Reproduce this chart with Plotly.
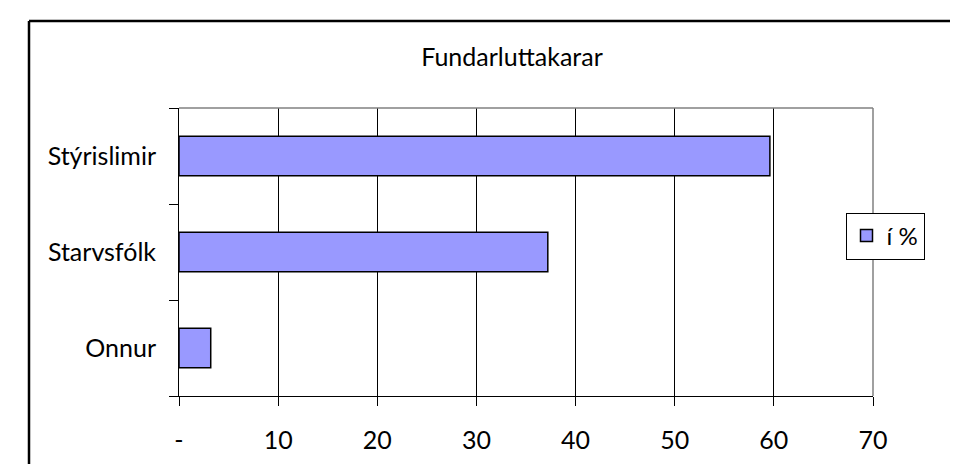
import plotly.graph_objects as go

# data
categories = ["Stýrislimir", "Starvsfólk", "Onnur"]
values = [59.6, 37.2, 3.2]
series_name = "í %"
x_ticks = [0, 10, 20, 30, 40, 50, 60, 70]
x_ticktext = ["-" if v == 0 else str(v) for v in x_ticks]

W, H = 958, 464
L, R, T, B = 171, 93, 100, 76
FONT = "Lato"
FS = 25


def px2paper(px, py):
    # pixel position -> paper coordinates of the plot area
    return (px - L) / (W - L - R), (H - B - py) / (H - T - B)


fig = go.Figure()

fig.add_trace(go.Bar(
    y=categories,
    x=values,
    orientation="h",
    name=series_name,
    marker=dict(color="#9999FF", line=dict(color="#000000", width=1.5)),
    showlegend=True,
))

# outer frame (top + left edge of the cropped chart area)
x0, y0 = px2paper(21, 13)
x1, _ = px2paper(W + 5, 13)
_, y1 = px2paper(21, H + 5)
fig.add_shape(type="line", xref="paper", yref="paper", x0=x0, y0=y0, x1=x1, y1=y0,
              line=dict(color="#000000", width=2.5))
fig.add_shape(type="line", xref="paper", yref="paper", x0=x0, y0=y0, x1=x0, y1=y1,
              line=dict(color="#000000", width=2.5))
# grey plot-area border, top and right
fig.add_shape(type="line", xref="paper", yref="paper", x0=0, y0=1, x1=1, y1=1,
              line=dict(color="#808080", width=1.5))
fig.add_shape(type="line", xref="paper", yref="paper", x0=1, y0=0, x1=1, y1=1,
              line=dict(color="#808080", width=1.5))

tx, _ = px2paper(504, 0)
lx, ly = px2paper(877, 228)
fig.update_layout(
    width=W, height=H,
    margin=dict(l=L, r=R, t=T, b=B),
    paper_bgcolor="white",
    plot_bgcolor="white",
    font=dict(family=FONT, size=FS, color="#000000"),
    title=dict(text="Fundarluttakarar", x=tx, xref="paper", xanchor="center",
               y=1 - 49 / H, yref="container", yanchor="middle",
               font=dict(family=FONT, size=FS, color="#000000")),
    bargap=0.59,
    showlegend=True,
    legend=dict(x=lx, y=ly, xanchor="center", yanchor="middle",
                bgcolor="white", bordercolor="#000000", borderwidth=1,
                font=dict(family=FONT, size=FS - 1), itemwidth=30),
    xaxis=dict(range=[0, 70], tickvals=x_ticks, ticktext=x_ticktext,
               showgrid=True, gridcolor="#000000", gridwidth=1,
               showline=True, linecolor="#000000", linewidth=1,
               ticks="outside", ticklen=9, tickcolor="#000000",
               ticklabelstandoff=13, zeroline=False, fixedrange=True),
    yaxis=dict(categoryorder="array", categoryarray=categories[::-1],
               tickson="boundaries", ticks="outside", ticklen=9, tickcolor="#000000",
               showgrid=False, showline=True, linecolor="#000000", linewidth=1,
               ticklabelstandoff=17, zeroline=False),
)

fig.write_html("out.html")
